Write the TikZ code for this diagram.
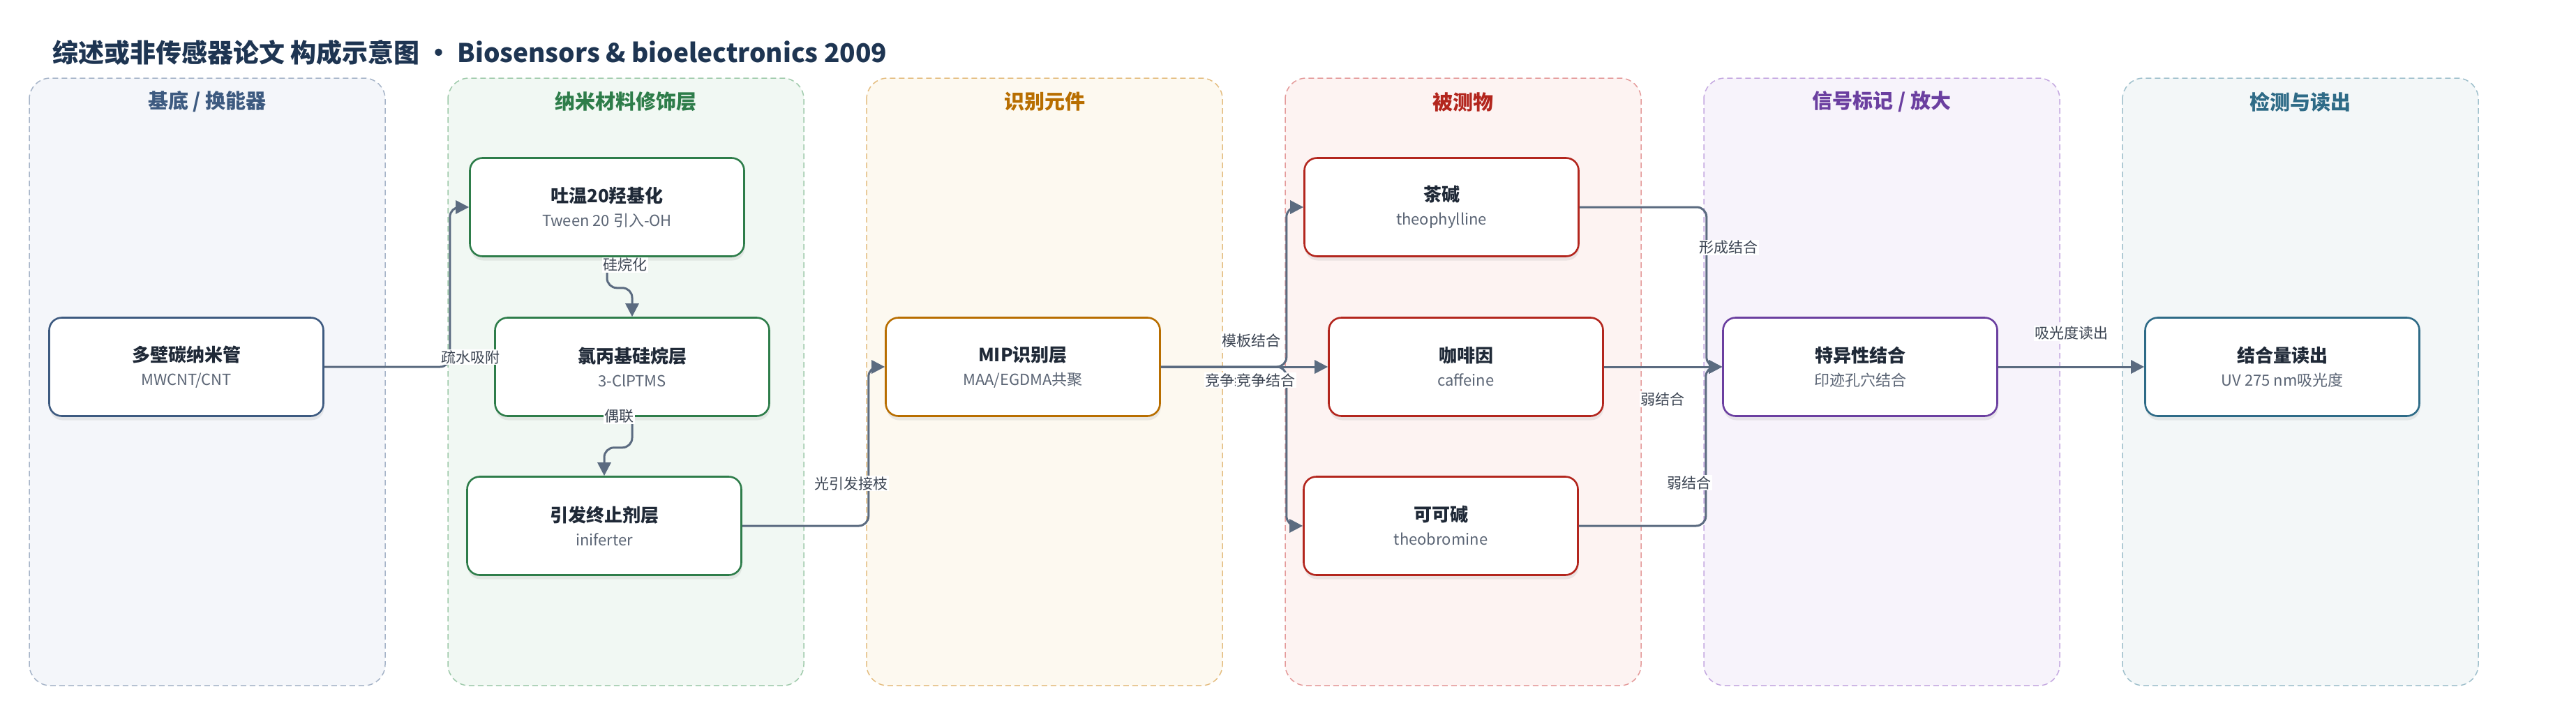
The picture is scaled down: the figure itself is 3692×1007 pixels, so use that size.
\documentclass[tikz,border=0pt]{standalone}
\usepackage{fontspec}
\setmainfont{Noto Sans CJK SC}
\usepackage{xcolor}
\usepackage{tikz}
\usetikzlibrary{arrows.meta,positioning,calc,shadows}

\definecolor{titleink}{HTML}{1E3552}
\definecolor{ink}{HTML}{1F2937}
\definecolor{subink}{HTML}{5B6575}
\definecolor{lblink}{HTML}{3B4452}
\definecolor{edgecol}{HTML}{5B6B80}
% lane colours: Fill / Dash / Text
\definecolor{baseFill}{HTML}{F4F6FA}\definecolor{baseDash}{HTML}{A6B4C8}\definecolor{baseText}{HTML}{3D5A80}
\definecolor{nanoFill}{HTML}{F1F8F3}\definecolor{nanoDash}{HTML}{9FCAAB}\definecolor{nanoText}{HTML}{2E7D4A}
\definecolor{recoFill}{HTML}{FDF9F0}\definecolor{recoDash}{HTML}{E4BD80}\definecolor{recoText}{HTML}{B86E00}
\definecolor{analFill}{HTML}{FDF3F2}\definecolor{analDash}{HTML}{E49A9A}\definecolor{analText}{HTML}{B3261E}
\definecolor{signFill}{HTML}{F7F3FB}\definecolor{signDash}{HTML}{C4A8E0}\definecolor{signText}{HTML}{6B3FA0}
\definecolor{readFill}{HTML}{F3F7F8}\definecolor{readDash}{HTML}{9FC0CC}\definecolor{readText}{HTML}{2E6B87}

\newcommand{\boxtxt}[2]{{\fontsize{26}{34}\selectfont\bfseries\color{ink}#1}\\{\color{subink}#2}}

\begin{document}
\begin{tikzpicture}[x=1pt,y=-1pt,
  lane/.style={rounded corners=30pt, line width=1.5pt, dash pattern=on 8pt off 5pt},
  lanetitle/.style={font=\fontsize{29}{34}\selectfont\bfseries},
  box/.style={rounded corners=18pt, minimum width=393pt, minimum height=141pt,
    fill=white, line width=2.6pt, align=center, font=\fontsize{22}{34}\selectfont,
    drop shadow={opacity=0.14, shadow xshift=1pt, shadow yshift=-6pt}},
  edge/.style={line width=3pt, draw=edgecol, rounded corners=14pt,
    -{Triangle[length=19pt,width=19pt]}},
  lbl/.style={fill=white, inner sep=1.5pt, text=lblink, font=\fontsize{21}{24}\selectfont}]
\useasboundingbox (0,0) rectangle (3692,1007);

% Title
\node[anchor=west, inner sep=0pt, text=titleink, font=\fontsize{37}{44}\selectfont\bfseries]
  (title) at (75,75) {综述或非传感器论文 构成示意图 • Biosensors \& bioelectronics 2009};

% Lanes
\foreach \i/\c/\t in {0/base/{基底 / 换能器}, 1/nano/纳米材料修饰层, 2/reco/识别元件,
                      3/anal/被测物, 4/sign/{信号标记 / 放大}, 5/read/检测与读出} {
  \draw[lane, fill=\c Fill, draw=\c Dash] (42+600*\i,112) rectangle ++(510,871);
  \node[lanetitle, text=\c Text] (lane\i) at (297+600*\i,146) {\t};
}

% Nodes
\node[box, draw=baseText] (mwcnt)    at (267,526)  {\boxtxt{多壁碳纳米管}{MWCNT/CNT}};
\node[box, draw=nanoText] (tween)    at (870,297)  {\boxtxt{吐温20羟基化}{Tween 20 引入-OH}};
\node[box, draw=nanoText] (silane)   at (906,526)  {\boxtxt{氯丙基硅烷层}{3-ClPTMS}};
\node[box, draw=nanoText] (initer)   at (866,754)  {\boxtxt{引发终止剂层}{iniferter}};
\node[box, draw=recoText] (mip)      at (1466,526) {\boxtxt{MIP识别层}{MAA/EGDMA共聚}};
\node[box, draw=analText] (theoph)   at (2066,297) {\boxtxt{茶碱}{theophylline}};
\node[box, draw=analText] (caff)     at (2101,526) {\boxtxt{咖啡因}{caffeine}};
\node[box, draw=analText] (theobr)   at (2065,754) {\boxtxt{可可碱}{theobromine}};
\node[box, draw=signText] (specific) at (2666,526) {\boxtxt{特异性结合}{印迹孔穴结合}};
\node[box, draw=readText] (readout)  at (3271,526) {\boxtxt{结合量读出}{UV 275 nm吸光度}};

% Connectors
\draw[edge] (mwcnt.east) -- ++(180,0) |- (tween.west);
\draw[edge] (tween.south) -- ++(0,44) -| (silane.north);
\draw[edge] (silane.south) -- ++(0,44) -| (initer.north);
\draw[edge] (initer.east) -- ++(181,0) |- (mip.west);
\draw[edge] (mip.east) -- ++(180,0) |- (theoph.west);
\draw[edge] (mip.east) -- (caff.west);
\draw[edge] (mip.east) -- ++(180,0) |- (theobr.west);
\draw[edge] (theoph.east) -- ++(182,0) |- (specific.west);
\draw[edge] (caff.east) -- (specific.west);
\draw[edge] (theobr.east) -- ++(182,0) |- (specific.west);
\draw[edge] (specific.east) -- (readout.west);

% Labels
\node[lbl] (l1)  at (674,512)  {疏水吸附};
\node[lbl] (l2)  at (896,380)  {硅烷化};
\node[lbl] (l3)  at (887,597)  {偶联};
\node[lbl] (l4)  at (1220,693) {光引发接枝};
\node[lbl] (l5)  at (1793,489) {模板结合};
\node[lbl] (l6)  at (1769,545) {竞争结合};
\node[lbl] (l7)  at (1814,545) {竞争结合};
\node[lbl] (l8)  at (2477,355) {形成结合};
\node[lbl] (l9)  at (2383,572) {弱结合};
\node[lbl] (l10) at (2421,692) {弱结合};
\node[lbl] (l11) at (2969,478) {吸光度读出};
\end{tikzpicture}
\end{document}
